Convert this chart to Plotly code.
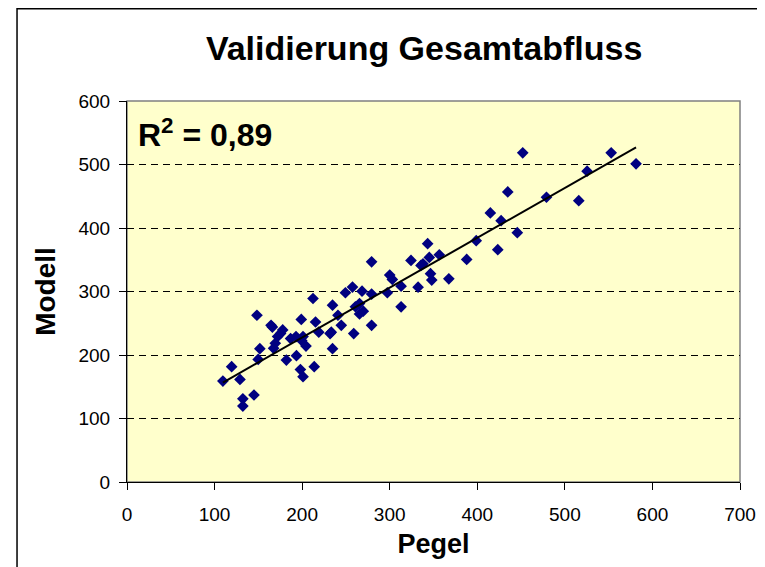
import numpy as np
import plotly.graph_objects as go

pegel = [109.5, 119.5, 129, 132.3, 132.3, 145, 148.4, 151.7, 149.8, 164.5, 166, 167.4, 169.3, 172,
         175.4, 177.8, 182, 186.8, 193, 193.5, 199, 198, 201, 199.6, 201, 204.4, 212.4, 213.8, 215.3,
         219, 231.9, 233.3, 234.7, 234.7, 240.9, 244.7, 249.4, 257.5, 258.9, 260.8, 265.5, 265.5,
         268.4, 269.8, 279.3, 279.3, 279.3, 297.3, 300, 303, 313, 313, 324.3, 332.4, 335.7, 338,
         343.3, 345.2, 346.6, 348, 356.6, 367.5, 387.9, 398.8, 414.9, 423.4, 427.2, 434.8, 445.7,
         451.9, 479, 515.9, 525.4, 552.9, 581.3]
modell = [159, 181.6, 161.6, 131, 119.5, 137, 262.6, 210, 193, 246.8, 244, 210.5, 218.4, 229,
          234, 239.5, 192, 225.8, 229, 199, 256, 177, 165.8, 222.6, 229, 214, 289, 181.6, 252,
          236, 233.7, 236, 278.4, 210, 262.6, 246.8, 298, 307, 233.7, 276, 281, 264.7,
          300.5, 269, 346.8, 296, 246.8, 298, 325.8, 319, 308.4, 275.8, 349, 306.8, 341, 343.7,
          375.3, 353.7, 328, 318, 357.9, 320, 350.5, 380, 423.7, 365.8, 411.6, 456.8, 392.6,
          518.4, 448.4, 443, 489.5, 518.4, 501]

title = "Validierung Gesamtabfluss"
x_title = "Pegel"
y_title = "Modell"
r2_label = "R<sup>2</sup> = 0,89"

xa = np.array(pegel)
ya = np.array(modell)
slope, intercept = np.polyfit(xa, ya, 1)
xl = np.array([xa.min(), xa.max()])
yl = slope * xl + intercept

fig = go.Figure()
fig.add_trace(go.Scatter(x=pegel, y=modell, mode="markers",
                         marker=dict(symbol="diamond", size=9, color="#000080"),
                         showlegend=False, hoverinfo="x+y"))
fig.add_trace(go.Scatter(x=xl, y=yl, mode="lines", line=dict(color="black", width=2),
                         showlegend=False, hoverinfo="skip"))

font = "Liberation Sans, Arial, sans-serif"
fig.update_layout(
    width=765, height=567,
    margin=dict(l=119, r=33, t=93, b=93),
    paper_bgcolor="white",
    plot_bgcolor="#FFFFCC",
    font=dict(family=font, color="black", size=19),
    title=dict(text="<b>" + title + "</b>", x=0.544, xanchor="center", y=0.93, yanchor="middle",
               font=dict(size=34, family=font)),
    xaxis=dict(range=[0, 700], dtick=100, showgrid=False, zeroline=False,
               showline=True, linecolor="black", linewidth=1, mirror=False,
               ticks="outside", ticklen=7, tickcolor="black", ticklabelstandoff=8,
               title=dict(text="<b>" + x_title + "</b>", font=dict(size=27), standoff=10)),
    yaxis=dict(range=[0, 600], dtick=100, showgrid=True, gridcolor="black", griddash="7px,5px",
               gridwidth=1, zeroline=False,
               showline=True, linecolor="black", linewidth=1,
               ticks="outside", ticklen=7, tickcolor="black", ticklabelstandoff=5,
               title=dict(text="<b>" + y_title + "</b>", font=dict(size=28), standoff=14)),
    annotations=[dict(text="<b>" + r2_label + "</b>", xref="paper", yref="paper",
                      x=0.014, y=0.975, xanchor="left", yanchor="top", showarrow=False,
                      font=dict(size=32, family=font))],
    shapes=[
        dict(type="rect", xref="paper", yref="paper", x0=0, x1=1, y0=0, y1=1,
             line=dict(color="#808080", width=1.5), fillcolor="rgba(0,0,0,0)", layer="below"),
        dict(type="rect", xref="paper", yref="paper", x0=-0.1794, x1=1.1, y0=-0.3, y1=1.242,
             line=dict(color="black", width=1.5), fillcolor="rgba(0,0,0,0)"),
    ],
)
fig.write_html("out.html")
